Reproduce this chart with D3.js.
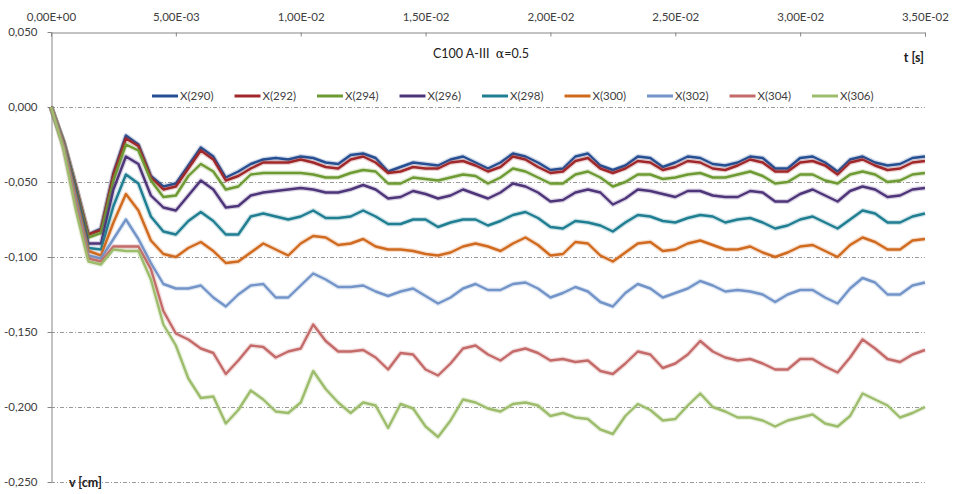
<!DOCTYPE html>
<html>
<head>
<meta charset="utf-8">
<script src="https://cdn.jsdelivr.net/npm/d3@7"></script>
<style>
  body { margin: 0; background: #fff; }
  svg { font-family: Lato, "Liberation Sans", sans-serif; }
  .axis path, .axis line { stroke: #868686; }
  .axis text { fill: #404040; font-size: 11.5px; font-family: Lato, sans-serif; }
  .grid { stroke: #9a9a9a; stroke-dasharray: 4,2,1,2; }
</style>
</head>
<body>
<div class="chartCont"></div>
<script>
const w = 957;
const h = 494;

// time samples [s]
const tSec = [0,0.0005,0.001,0.0015,0.002,0.0025,0.003,0.0035,0.004,0.0045,0.005,0.0055,0.006,0.0065,0.007,0.0075,0.008,0.0085,0.009,0.0095,
  0.01,0.0105,0.011,0.0115,0.012,0.0125,0.013,0.0135,0.014,0.0145,0.015,0.0155,0.016,0.0165,0.017,0.0175,0.018,0.0185,0.019,0.0195,
  0.02,0.0205,0.021,0.0215,0.022,0.0225,0.023,0.0235,0.024,0.0245,0.025,0.0255,0.026,0.0265,0.027,0.0275,0.028,0.0285,0.029,0.0295,
  0.03,0.0305,0.031,0.0315,0.032,0.0325,0.033,0.0335,0.034,0.0345,0.035];

// v [cm]
const X290 = [0,-.023,-.053,-.085,-.081,-.044,-.019,-.025,-.046,-.053,-.051,-.039,-.027,-.033,-.047,-.043,-.038,-.035,-.034,-.035,-.033,-.034,-.037,-.038,-.032,-.031,-.034,-.043,-.040,-.037,-.038,-.039,-.035,-.033,-.037,-.041,-.037,-.031,-.033,-.037,-.042,-.041,-.033,-.031,-.039,-.042,-.039,-.033,-.034,-.040,-.037,-.033,-.034,-.038,-.039,-.037,-.033,-.034,-.041,-.041,-.034,-.033,-.037,-.043,-.035,-.033,-.037,-.039,-.038,-.034,-.033];
const X292 = [0,-.023,-.053,-.085,-.082,-.045,-.021,-.026,-.047,-.055,-.053,-.041,-.029,-.035,-.049,-.046,-.041,-.037,-.037,-.037,-.035,-.037,-.040,-.041,-.035,-.033,-.037,-.044,-.043,-.040,-.041,-.041,-.037,-.036,-.039,-.043,-.040,-.033,-.035,-.040,-.044,-.043,-.036,-.034,-.041,-.044,-.041,-.036,-.037,-.042,-.040,-.036,-.037,-.041,-.042,-.039,-.035,-.037,-.043,-.043,-.037,-.036,-.039,-.045,-.037,-.035,-.039,-.042,-.041,-.037,-.036];
const X294 = [0,-.023,-.054,-.087,-.084,-.049,-.025,-.029,-.049,-.060,-.059,-.046,-.038,-.043,-.055,-.053,-.045,-.044,-.044,-.044,-.044,-.045,-.047,-.047,-.044,-.042,-.043,-.051,-.051,-.047,-.048,-.049,-.047,-.045,-.046,-.051,-.047,-.041,-.043,-.047,-.051,-.051,-.045,-.043,-.047,-.053,-.050,-.045,-.045,-.048,-.047,-.045,-.044,-.047,-.047,-.045,-.043,-.046,-.051,-.050,-.045,-.045,-.049,-.051,-.045,-.043,-.045,-.050,-.049,-.045,-.044];
const X296 = [0,-.024,-.056,-.091,-.091,-.055,-.033,-.038,-.059,-.067,-.069,-.059,-.049,-.055,-.067,-.066,-.059,-.057,-.056,-.055,-.054,-.055,-.057,-.057,-.055,-.052,-.055,-.061,-.060,-.056,-.058,-.061,-.059,-.055,-.058,-.061,-.057,-.051,-.053,-.057,-.063,-.062,-.057,-.055,-.057,-.065,-.061,-.055,-.056,-.058,-.060,-.056,-.056,-.059,-.060,-.060,-.056,-.057,-.063,-.063,-.058,-.055,-.059,-.063,-.056,-.053,-.055,-.060,-.059,-.055,-.054];
const X298 = [0,-.025,-.058,-.094,-.095,-.066,-.045,-.051,-.073,-.083,-.085,-.076,-.070,-.076,-.085,-.085,-.073,-.071,-.073,-.075,-.073,-.069,-.074,-.074,-.073,-.069,-.073,-.078,-.078,-.075,-.075,-.080,-.077,-.075,-.075,-.079,-.076,-.072,-.070,-.074,-.080,-.081,-.076,-.077,-.079,-.083,-.077,-.072,-.073,-.076,-.077,-.074,-.072,-.073,-.077,-.075,-.074,-.077,-.081,-.079,-.075,-.073,-.077,-.081,-.075,-.069,-.071,-.077,-.077,-.073,-.071];
const X300 = [0,-.025,-.060,-.096,-.099,-.077,-.058,-.069,-.089,-.098,-.100,-.094,-.090,-.096,-.104,-.103,-.097,-.091,-.095,-.099,-.091,-.086,-.087,-.092,-.091,-.088,-.093,-.095,-.095,-.096,-.098,-.099,-.097,-.093,-.091,-.093,-.096,-.091,-.087,-.092,-.099,-.098,-.090,-.091,-.099,-.103,-.097,-.091,-.090,-.096,-.095,-.091,-.089,-.092,-.095,-.095,-.093,-.097,-.100,-.097,-.093,-.092,-.096,-.100,-.092,-.087,-.090,-.095,-.095,-.089,-.088];
const X302 = [0,-.026,-.063,-.099,-.101,-.088,-.075,-.088,-.104,-.118,-.121,-.121,-.119,-.127,-.133,-.125,-.119,-.118,-.127,-.127,-.119,-.111,-.115,-.120,-.120,-.119,-.123,-.126,-.123,-.121,-.126,-.131,-.127,-.121,-.118,-.122,-.122,-.118,-.117,-.121,-.127,-.124,-.120,-.123,-.130,-.133,-.124,-.118,-.121,-.127,-.124,-.121,-.116,-.119,-.123,-.122,-.123,-.125,-.130,-.125,-.122,-.122,-.127,-.131,-.121,-.114,-.117,-.125,-.125,-.119,-.117];
const X304 = [0,-.027,-.066,-.101,-.103,-.093,-.093,-.093,-.108,-.136,-.151,-.155,-.161,-.164,-.178,-.169,-.159,-.160,-.167,-.163,-.161,-.145,-.156,-.163,-.163,-.162,-.167,-.175,-.164,-.165,-.175,-.179,-.171,-.161,-.159,-.165,-.169,-.163,-.161,-.164,-.169,-.168,-.170,-.169,-.176,-.178,-.171,-.163,-.165,-.174,-.171,-.165,-.156,-.163,-.167,-.169,-.168,-.171,-.175,-.175,-.168,-.168,-.173,-.177,-.167,-.155,-.161,-.168,-.170,-.165,-.162];
const X306 = [0,-.028,-.069,-.103,-.105,-.095,-.096,-.096,-.115,-.145,-.159,-.181,-.194,-.193,-.211,-.202,-.189,-.195,-.203,-.204,-.197,-.176,-.188,-.197,-.204,-.197,-.199,-.214,-.198,-.201,-.213,-.220,-.209,-.195,-.197,-.201,-.203,-.198,-.197,-.199,-.206,-.204,-.207,-.208,-.215,-.218,-.206,-.198,-.202,-.209,-.208,-.199,-.191,-.200,-.203,-.207,-.207,-.209,-.213,-.209,-.207,-.205,-.211,-.213,-.206,-.191,-.195,-.199,-.207,-.204,-.200];

const seriesNames = ["X(290)", "X(292)", "X(294)", "X(296)", "X(298)", "X(300)", "X(302)", "X(304)", "X(306)"];
const seriesValues = [X290, X292, X294, X296, X298, X300, X302, X304, X306];
const colors = ["#254f92", "#a0282b", "#6e9a33", "#4e3479", "#1f7e91", "#d06a1e", "#7394c8", "#c46b6a", "#9dbd6c"];

const xTicks = [0, 0.005, 0.01, 0.015, 0.02, 0.025, 0.03, 0.035];
const yTicks = [0.05, 0, -0.05, -0.1, -0.15, -0.2, -0.25];

const svg = d3.select(".chartCont").append("svg")
    .attr("width", w)
    .attr("height", h);

const x = d3.scaleLinear().domain([0, 0.035]).range([51, 925]);
const y = d3.scaleLinear().domain([-0.25, 0.05]).range([482, 32]);

// excel style number labels with decimal comma
const fmtX = d => {
  if (d === 0) return "0,00E+00";
  const e = Math.floor(Math.log10(Math.abs(d)) + 1e-9);
  const m = (d / Math.pow(10, e)).toFixed(2).replace(".", ",");
  return m + "E" + (e < 0 ? "-" : "+") + String(Math.abs(e)).padStart(2, "0");
};
const fmtY = d => d3.format(".3f")(d).replace("−", "-").replace(".", ",");

// gridlines
svg.append("g").selectAll("line")
    .data(yTicks.filter(d => d < 0.05))
    .enter().append("line")
    .attr("class", "grid")
    .attr("x1", 51).attr("x2", 925)
    .attr("y1", d => y(d) + 0.5).attr("y2", d => y(d) + 0.5);

const xAxis = svg.append("g")
    .attr("class", "axis")
    .attr("transform", "translate(0," + (y(0.05) + 0.5) + ")")
    .call(d3.axisTop(x).tickValues(xTicks).tickFormat(fmtX).tickSizeInner(-4).tickSizeOuter(-4).tickPadding(12));

const yAxis = svg.append("g")
    .attr("class", "axis")
    .attr("transform", "translate(" + (x(0) + 0.5) + ",0)")
    .call(d3.axisLeft(y).tickValues(yTicks).tickFormat(fmtY).tickSizeInner(4).tickSizeOuter(0).tickPadding(10));

// lines
const line = d3.line()
    .x((d, i) => x(tSec[i]))
    .y(d => y(d));

const gLines = svg.append("g");
seriesValues.forEach((vals, k) => {
  gLines.append("path")
      .datum(vals)
      .attr("fill", "none")
      .attr("stroke", colors[k])
      .attr("stroke-opacity", 0.22)
      .attr("stroke-width", 5)
      .attr("stroke-linejoin", "round")
      .attr("d", line);
  gLines.append("path")
      .datum(vals)
      .attr("fill", "none")
      .attr("stroke", colors[k])
      .attr("stroke-width", 2.4)
      .attr("stroke-linejoin", "round")
      .attr("d", line);
});

// legend
const legend = svg.append("g").attr("transform", "translate(152,96)");
const items = legend.selectAll("g")
    .data(seriesNames)
    .enter().append("g")
    .attr("transform", (d, i) => "translate(" + (i * 82.5) + ",0)");
items.append("line")
    .attr("x1", 0).attr("x2", 26)
    .attr("stroke", (d, i) => colors[i])
    .attr("stroke-width", 3);
items.append("text")
    .attr("x", 28).attr("y", 4)
    .attr("font-size", "11.5px")
    .attr("fill", "#404040")
    .text(d => d);

// titles
const title = svg.append("text")
    .attr("x", 481).attr("y", 58)
    .attr("text-anchor", "middle")
    .attr("font-size", "12.5px")
    .attr("fill", "#202020")
    .style("white-space", "pre");
title.append("tspan").text("C100 A-III  ");
title.append("tspan").attr("font-family", "'DejaVu Serif', serif").text("α");
title.append("tspan").text("=0.5");

svg.append("text")
    .attr("x", 924).attr("y", 62)
    .attr("text-anchor", "end")
    .attr("font-size", "12.5px")
    .attr("font-weight", "bold")
    .attr("fill", "#202020")
    .text("t [s]");

svg.append("text")
    .attr("x", 69).attr("y", 487)
    .attr("font-size", "12.5px")
    .attr("font-weight", "bold")
    .attr("fill", "#202020")
    .text("v [cm]");
</script>
</body>
</html>
